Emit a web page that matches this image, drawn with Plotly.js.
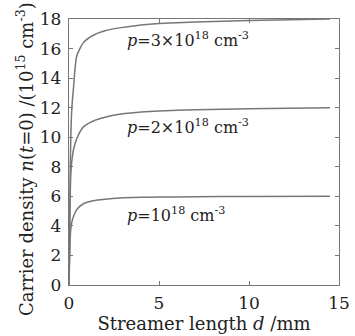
<!DOCTYPE html>
<html><head><meta charset="utf-8">
<script src="https://cdn.plot.ly/plotly-3.0.1.min.js"></script>
<style>body{margin:0;background:#fff}#c{width:355px;height:336px}</style>
</head><body><div id="c"></div>
<script>
const dist = [0, 0.03, 0.06, 0.1, 0.15, 0.24, 0.43, 0.8, 1.35, 2.0, 2.8, 4, 5, 7, 10, 14.5];
const n3 = [0, 3, 7, 10, 11.8, 13.2, 15.5, 16.4, 16.9, 17.2, 17.4, 17.6, 17.7, 17.8, 17.9, 18.0];
const n2 = [0, 2.5, 5.5, 7.5, 8.3, 9.1, 9.9, 10.7, 11.1, 11.35, 11.55, 11.7, 11.78, 11.86, 11.93, 12.0];
const n1 = [0, 1.5, 3, 3.8, 4.2, 4.6, 5.1, 5.5, 5.7, 5.8, 5.88, 5.93, 5.95, 5.97, 5.99, 6.0];
const labels = ['<i>p</i>=3×10<sup>18</sup> cm<sup>-3</sup>', '<i>p</i>=2×10<sup>18</sup> cm<sup>-3</sup>', '<i>p</i>=10<sup>18</sup> cm<sup>-3</sup>'];
const labelX = [3.1, 3.1, 3.1];
const labelY = [16.6, 10.7, 4.8];
const xTitle = 'Streamer length <i>d</i> /mm';
const yTitle = 'Carrier density <i>n</i>(<i>t</i>=0) /(10<sup>15</sup> cm<sup>-3</sup>)';

const FONT = 'DejaVu Serif, serif';
const TXT = '#222';
const line = {color: '#777', width: 1.5, shape: 'spline', smoothing: 0.6};
const traces = [n3, n2, n1].map(v => ({x: dist, y: v, mode: 'lines', line: line, hoverinfo: 'skip'}));
const ax = {showgrid: false, zeroline: false, showline: true, linecolor: '#777', linewidth: 1.2, mirror: 'ticks',
  ticks: 'inside', ticklen: 4, tickcolor: '#777', tickfont: {family: FONT, size: 17, color: TXT}};
const anns = labels.map((t, i) => ({x: labelX[i], y: labelY[i], xanchor: 'left', yanchor: 'middle', text: t, showarrow: false,
    font: {family: FONT, size: 16, color: TXT}}));
anns.push({xref: 'paper', yref: 'paper', x: (25 - 69) / 270, y: (285 - 159) / 266, xanchor: 'center', yanchor: 'middle',
  textangle: -90, text: yTitle, showarrow: false, font: {family: FONT, size: 18, color: TXT}});
const layout = {
  width: 355, height: 336, showlegend: false,
  margin: {l: 69, r: 16, t: 19, b: 51},
  paper_bgcolor: '#fff', plot_bgcolor: '#fff',
  xaxis: Object.assign({}, ax, {range: [0, 15], tickvals: [0, 5, 10, 15], ticklabelstandoff: 2,
    title: {text: xTitle, font: {family: FONT, size: 18, color: TXT}, standoff: 0}}),
  yaxis: Object.assign({}, ax, {range: [0, 18], dtick: 2, ticklabelstandoff: 3}),
  annotations: anns
};
Plotly.newPlot('c', traces, layout, {staticPlot: true, displayModeBar: false});
</script></body></html>
